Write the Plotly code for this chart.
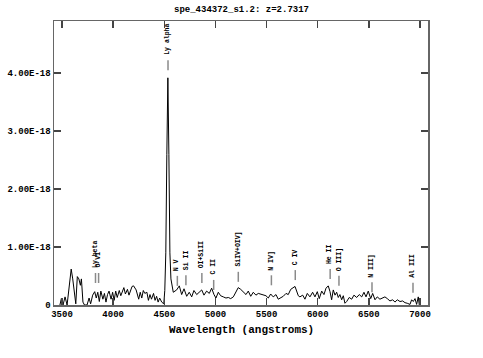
import numpy as np
import plotly.graph_objects as go

# ---------------- data ----------------
title_text = "spe_434372_s1.2: z=2.7317"
redshift = 2.7317

wavelength = [3480, 3495, 3510, 3530, 3550, 3570, 3590, 3605, 3620, 3635, 3650, 3665, 3680, 3690,
              3705, 3720, 3745, 3765, 3780, 3800, 3820, 3835, 3850, 3865, 3880, 3900, 3915, 3930,
              3945, 3960, 3980, 3995, 4010, 4025, 4040, 4060, 4075, 4090, 4105, 4120, 4140, 4155,
              4170, 4185, 4200, 4225, 4250, 4265, 4280, 4295, 4310, 4330, 4345, 4360, 4375, 4395,
              4410, 4425, 4440, 4455, 4475, 4495, 4505, 4515, 4525, 4535, 4545, 4555, 4565, 4575,
              4588, 4621, 4647, 4670, 4693, 4719, 4744, 4768, 4790, 4817, 4842, 4866, 4888, 4914,
              4940, 4963, 4986, 5005, 5028, 5051, 5077, 5103, 5126, 5149, 5175, 5201, 5223, 5247,
              5272, 5299, 5321, 5345, 5370, 5396, 5419, 5442, 5468, 5494, 5517, 5540, 5565, 5592,
              5614, 5638, 5663, 5690, 5712, 5736, 5761, 5778, 5810, 5826, 5853, 5875, 5898, 5924,
              5950, 5973, 5996, 6015, 6039, 6061, 6081, 6103, 6120, 6136, 6152, 6169, 6185, 6201,
              6217, 6234, 6250, 6266, 6283, 6308, 6332, 6354, 6381, 6406, 6430, 6452, 6472, 6494,
              6518, 6537, 6560, 6582, 6608, 6635, 6657, 6680, 6706, 6733, 6755, 6778, 6804, 6830,
              6853, 6875, 6902, 6918, 6934, 6951, 6967, 6983, 6993]

# flux in units of 1e-18
flux_e18 = [0.00, 0.12, 0.00, 0.14, 0.00, 0.35, 0.62, 0.45, 0.17, 0.02, 0.49, 0.45, 0.34, 0.45,
            0.05, 0.00, 0.00, 0.12, 0.02, 0.17, 0.23, 0.12, 0.22, 0.06, 0.24, 0.10, 0.20, 0.05,
            0.18, 0.24, 0.10, 0.22, 0.08, 0.24, 0.13, 0.25, 0.16, 0.22, 0.30, 0.19, 0.27, 0.17,
            0.26, 0.32, 0.33, 0.26, 0.10, 0.22, 0.12, 0.25, 0.20, 0.22, 0.08, 0.18, 0.10, 0.20,
            0.08, 0.15, 0.05, 0.12, 0.05, 0.02, 0.25, 0.90, 2.60, 3.92, 2.60, 0.90, 0.45, 0.33,
            0.22, 0.26, 0.33, 0.18, 0.28, 0.15, 0.22, 0.14, 0.25, 0.18, 0.22, 0.26, 0.17, 0.24,
            0.20, 0.29, 0.18, 0.12, 0.22, 0.16, 0.14, 0.12, 0.13, 0.11, 0.14, 0.22, 0.30, 0.27,
            0.22, 0.18, 0.24, 0.15, 0.22, 0.17, 0.20, 0.19, 0.17, 0.16, 0.12, 0.19, 0.14, 0.18,
            0.10, 0.13, 0.15, 0.20, 0.18, 0.27, 0.30, 0.32, 0.16, 0.14, 0.17, 0.10, 0.20, 0.14,
            0.22, 0.14, 0.23, 0.11, 0.24, 0.18, 0.29, 0.33, 0.23, 0.09, 0.26, 0.17, 0.22, 0.13,
            0.18, 0.09, 0.16, 0.03, 0.06, 0.13, 0.10, 0.17, 0.13, 0.18, 0.14, 0.22, 0.14, 0.24,
            0.11, 0.20, 0.09, 0.14, 0.10, 0.13, 0.14, 0.11, 0.07, 0.09, 0.05, 0.09, 0.06, 0.07,
            0.04, 0.03, 0.01, 0.09, 0.06, 0.11, 0.01, 0.14, 0.00]

# line identifications: name, rest wavelength, marker base level (1e-18)
line_names = ["Ly beta", "O VI", "Ly alpha", "N V", "Si II", "OI+SiII", "C II", "SiIV+OIV]",
              "N IV]", "C IV", "He II", "O III]", "N III]", "Al III"]
line_rest = [1025.72, 1033.82, 1215.67, 1240.14, 1262.59, 1304.35, 1335.30, 1399.8,
             1486.5, 1549.06, 1640.42, 1663.48, 1750.0, 1857.4]
line_level_e18 = [0.38, 0.38, 4.05, 0.33, 0.34, 0.38, 0.26, 0.40,
                  0.34, 0.43, 0.45, 0.33, 0.22, 0.21]

x_ticks = [3500, 4000, 4500, 5000, 5500, 6000, 6500, 7000]
y_tick_vals_e18 = [0, 1, 2, 3, 4]
y_tick_text = ["0", "1.00E-18", "2.00E-18", "3.00E-18", "4.00E-18"]

# ---------------- figure ----------------
flux = np.array(flux_e18) * 1e-18
FONT = "Liberation Mono"

fig = go.Figure()
fig.add_trace(go.Scatter(x=wavelength, y=flux, mode="lines",
                         line=dict(color="black", width=1), showlegend=False,
                         hoverinfo="skip", cliponaxis=True))

for name, rest, lev in zip(line_names, line_rest, line_level_e18):
    lam = rest * (1 + redshift)
    base = lev * 1e-18
    fig.add_shape(type="line", xref="x", yref="y", x0=lam, x1=lam,
                  ysizemode="pixel", yanchor=base, y0=0, y1=10,
                  line=dict(color="#8a8a8a", width=1.5))
    fig.add_annotation(x=lam, y=base, xref="x", yref="y", text=name,
                       textangle=-90, showarrow=False, xanchor="center",
                       yanchor="bottom", yshift=14, borderpad=0,
                       font=dict(family=FONT, size=6.5, color="black", weight="bold"))

fig.add_annotation(x=0.5, y=1, xref="paper", yref="paper", yshift=11,
                   text=title_text, showarrow=False, xanchor="center", yanchor="middle",
                   font=dict(family=FONT, size=9, color="black", weight="bold"))
fig.add_annotation(x=0.5, y=0, xref="paper", yref="paper", yshift=-25,
                   text="Wavelength (angstroms)", showarrow=False, xanchor="center",
                   yanchor="middle",
                   font=dict(family=FONT, size=11, color="black", weight="bold"))

axis_common = dict(showgrid=False, zeroline=False, showline=True, linecolor="#666666",
                   linewidth=1.5, mirror="ticks", ticks="inside", ticklen=7,
                   tickcolor="#444444", tickwidth=1.5, automargin=False,
                   tickfont=dict(family=FONT, size=9, color="black", weight="bold"))

fig.update_layout(
    width=483, height=358,
    margin=dict(l=54, r=55, t=21, b=53, autoexpand=False),
    paper_bgcolor="white", plot_bgcolor="white",
    showlegend=False,
    xaxis=dict(range=[3422, 7078], tickvals=x_ticks,
               ticktext=[str(v) for v in x_ticks], **axis_common),
    yaxis=dict(range=[0, 4.9e-18], tickvals=[v * 1e-18 for v in y_tick_vals_e18],
               ticktext=y_tick_text, **axis_common),
)

fig.write_html("out.html", config={"displayModeBar": False, "staticPlot": True},
               post_script="document.body.style.margin='0';document.body.style.overflow='hidden';")
